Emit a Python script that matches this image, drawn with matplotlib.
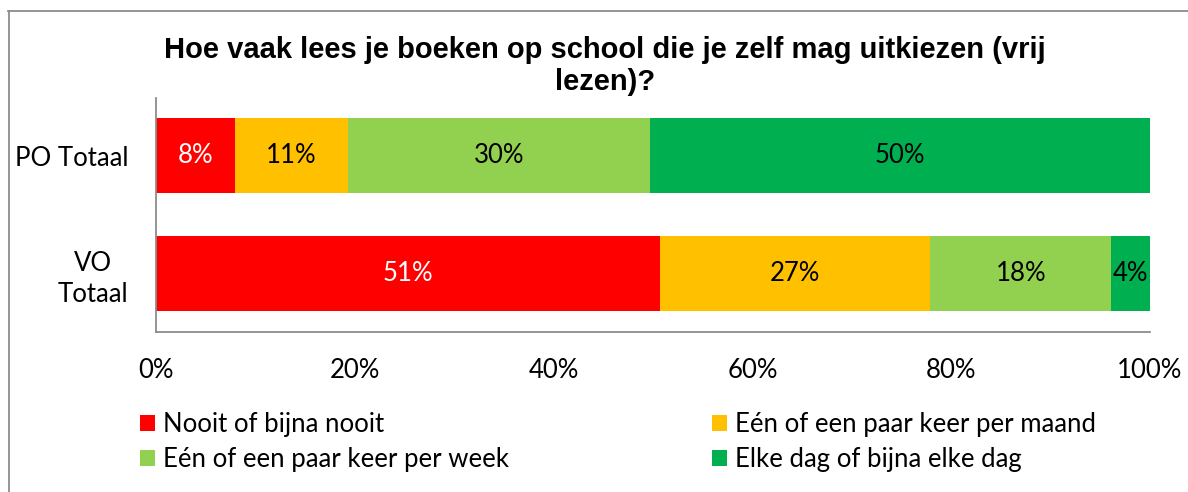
import matplotlib.pyplot as plt
from matplotlib.lines import Line2D
from matplotlib.patches import Patch

# Data (percentages)
groups = ['PO Totaal', 'VO\nTotaal']
categories = ['Nooit of bijna nooit', 'Eén of een paar keer per maand',
              'Eén of een paar keer per week', 'Elke dag of bijna elke dag']
nooit = [7.9, 50.7]
maand = [11.4, 27.2]
week = [30.4, 18.2]
dagelijks = [50.3, 3.9]
series = [nooit, maand, week, dagelijks]
colors = ['#FF0000', '#FFC000', '#92D050', '#00B050']
label_colors = ['white', 'black', 'black', 'black']
xticks = [0, 20, 40, 60, 80, 100]

body_font = 'Lato'
fs = 18.5

W, H = 1188, 492
fig = plt.figure(figsize=(W / 100, H / 100), dpi=100)
ax = fig.add_axes([156 / W, 1 - 332 / H, (1150 - 156) / W, (332 - 98) / H])

y = list(range(len(groups)))
left = [0] * len(groups)
for vals, c, lc in zip(series, colors, label_colors):
    b = ax.barh(y, vals, left=left, height=0.636, color=c, edgecolor='none')
    ax.bar_label(b, labels=[f'{round(v)}%' for v in vals], label_type='center',
                 color=lc, fontsize=fs, family=body_font)
    left = [l + v for l, v in zip(left, vals)]

ax.set_xlim(0, 100)
ax.set_ylim(1.5, -0.49)
ax.set_yticks(y)
ax.set_yticklabels(groups, fontsize=fs, family=body_font, ha='right', multialignment='center',
                   linespacing=1.3)
ax.set_xticks(xticks)
ax.set_xticklabels([f'{t}%' for t in xticks], fontsize=fs, family=body_font)
ax.tick_params(axis='both', length=0)
ax.tick_params(axis='x', pad=19)
ax.tick_params(axis='y', pad=20)
for s in ['top', 'right']:
    ax.spines[s].set_visible(False)
for s in ['left', 'bottom']:
    ax.spines[s].set_color('#8C8C8C')
    ax.spines[s].set_linewidth(1.3)

# Title
fig.text(605 / W, 1 - 66 / H,
         'Hoe vaak lees je boeken op school die je zelf mag uitkiezen (vrij\nlezen)?',
         ha='center', va='center', fontsize=21, fontweight='bold',
         family='Liberation Sans', linespacing=1.2)

# Legend in two columns
handles = [Patch(facecolor=c, edgecolor='none') for c in colors]
leg_kw = dict(frameon=False, loc='upper left', prop={'family': body_font, 'size': fs},
              handlelength=0.58, handleheight=0.58, handletextpad=0.32,
              labelspacing=0.4, borderaxespad=0, borderpad=0)
fig.legend([handles[0], handles[2]], [categories[0], categories[2]],
           bbox_to_anchor=(140 / W, 1 - 412 / H), **leg_kw)
fig.legend([handles[1], handles[3]], [categories[1], categories[3]],
           bbox_to_anchor=(712 / W, 1 - 412 / H), **leg_kw)

# Outer chart frame (cut off on the right and bottom)
fig.add_artist(Line2D([8.5 / W, 8.5 / W], [0, 1 - 11 / H], color='#8C8C8C', lw=1.3,
                      transform=fig.transFigure))
fig.add_artist(Line2D([8 / W, 1], [1 - 11 / H, 1 - 11 / H], color='#8C8C8C', lw=1.3,
                      transform=fig.transFigure))

fig.savefig('out.png', dpi=100)
